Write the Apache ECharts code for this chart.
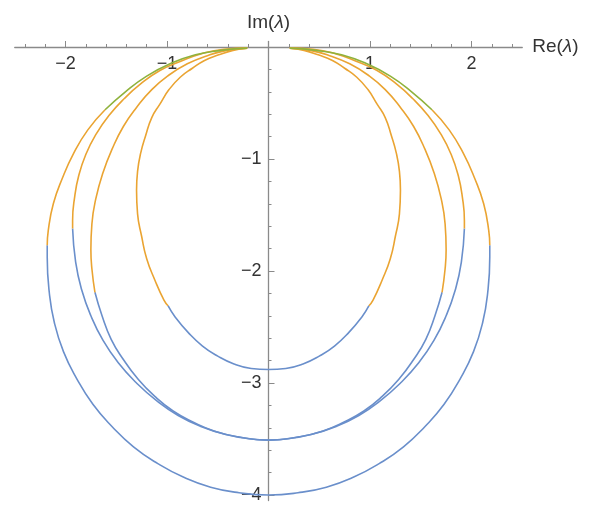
<!DOCTYPE html>
<html>
<head>
<meta charset="utf-8">
<script src="https://cdn.jsdelivr.net/npm/echarts@6/dist/echarts.min.js"></script>
<style>html,body{margin:0;padding:0;background:#fff}#c{width:596px;height:505px}</style>
</head>
<body>
<div id="c"></div>
<script>
// Tick labels
const xTickLabels = [-2, -1, 1, 2];
const yTickLabels = [-1, -2, -3, -4];

// Curve A (innermost)
const aOrangeL = [[-0.21,-0.01],[-0.35,-0.03],[-0.49,-0.07],[-0.63,-0.12],[-0.75,-0.19],[-0.87,-0.27],[-0.98,-0.38],[-1.07,-0.51],[-1.15,-0.63],[-1.21,-0.79],[-1.26,-0.95],[-1.29,-1.11],[-1.30,-1.28],[-1.29,-1.49],[-1.25,-1.69],[-1.20,-1.89],[-1.12,-2.08],[-1.03,-2.26],[-0.99,-2.31]];
const aBlue = [[-0.99,-2.31],[-0.92,-2.41],[-0.79,-2.55],[-0.65,-2.67],[-0.50,-2.76],[-0.34,-2.83],[-0.17,-2.87],[0,-2.88],[0.17,-2.87],[0.34,-2.83],[0.50,-2.76],[0.65,-2.67],[0.79,-2.55],[0.92,-2.41],[0.99,-2.31]];
const aOrangeR = [[0.21,-0.01],[0.35,-0.03],[0.49,-0.07],[0.63,-0.12],[0.75,-0.19],[0.87,-0.27],[0.98,-0.38],[1.07,-0.51],[1.15,-0.63],[1.21,-0.79],[1.26,-0.95],[1.29,-1.11],[1.30,-1.28],[1.29,-1.49],[1.25,-1.69],[1.20,-1.89],[1.12,-2.08],[1.03,-2.26],[0.99,-2.31]];

// Curve B
const bOrangeL = [[-0.21,-0.01],[-0.41,-0.03],[-0.61,-0.08],[-0.80,-0.15],[-0.98,-0.25],[-1.15,-0.38],[-1.30,-0.54],[-1.43,-0.71],[-1.54,-0.91],[-1.63,-1.12],[-1.70,-1.35],[-1.74,-1.58],[-1.75,-1.81],[-1.74,-1.98],[-1.71,-2.19]];
const bBlue = [[-1.71,-2.19],[-1.64,-2.40],[-1.55,-2.61],[-1.43,-2.79],[-1.29,-2.96],[-1.12,-3.12],[-0.94,-3.25],[-0.74,-3.35],[-0.53,-3.43],[-0.30,-3.48],[0,-3.51],[0.30,-3.48],[0.53,-3.43],[0.74,-3.35],[0.94,-3.25],[1.12,-3.12],[1.29,-2.96],[1.43,-2.79],[1.55,-2.61],[1.64,-2.40],[1.71,-2.19]];
const bOrangeR = [[0.21,-0.01],[0.41,-0.03],[0.61,-0.08],[0.80,-0.15],[0.98,-0.25],[1.15,-0.38],[1.30,-0.54],[1.43,-0.71],[1.54,-0.91],[1.63,-1.12],[1.70,-1.35],[1.74,-1.58],[1.75,-1.81],[1.74,-1.98],[1.71,-2.19]];

// Curve C
const cOrangeL = [[-0.21,-0.01],[-0.44,-0.02],[-0.66,-0.06],[-0.87,-0.13],[-1.07,-0.21],[-1.26,-0.33],[-1.42,-0.46],[-1.57,-0.61],[-1.70,-0.78],[-1.80,-0.96],[-1.87,-1.15],[-1.91,-1.34],[-1.93,-1.55],[-1.93,-1.62]];
const cBlue = [[-1.93,-1.62],[-1.90,-1.92],[-1.84,-2.17],[-1.75,-2.40],[-1.63,-2.62],[-1.48,-2.82],[-1.30,-3.00],[-1.10,-3.16],[-0.89,-3.29],[-0.66,-3.39],[-0.42,-3.46],[-0.17,-3.50],[0,-3.51],[0.17,-3.50],[0.42,-3.46],[0.66,-3.39],[0.89,-3.29],[1.10,-3.16],[1.30,-3.00],[1.48,-2.82],[1.63,-2.62],[1.75,-2.40],[1.84,-2.17],[1.90,-1.92],[1.93,-1.62]];
const cOrangeR = [[0.21,-0.01],[0.44,-0.02],[0.66,-0.06],[0.87,-0.13],[1.07,-0.21],[1.26,-0.33],[1.42,-0.46],[1.57,-0.61],[1.70,-0.78],[1.80,-0.96],[1.87,-1.15],[1.91,-1.34],[1.93,-1.55],[1.93,-1.62]];

// Curve D (outermost)
const dGreenL = [[-0.21,-0.01],[-0.47,-0.03],[-0.72,-0.07],[-0.97,-0.15],[-1.20,-0.26],[-1.41,-0.40],[-1.61,-0.56]];
const dOrangeL = [[-1.61,-0.56],[-1.78,-0.74],[-1.92,-0.95],[-2.03,-1.17],[-2.12,-1.40],[-2.17,-1.64],[-2.18,-1.77]];
const dBlue = [[-2.18,-1.77],[-2.18,-1.88],[-2.16,-2.19],[-2.11,-2.46],[-2.02,-2.72],[-1.89,-2.96],[-1.73,-3.19],[-1.54,-3.39],[-1.33,-3.57],[-1.09,-3.72],[-0.84,-3.84],[-0.57,-3.93],[-0.29,-3.98],[0,-4.00],[0.29,-3.98],[0.57,-3.93],[0.84,-3.84],[1.09,-3.72],[1.33,-3.57],[1.54,-3.39],[1.73,-3.19],[1.89,-2.96],[2.02,-2.72],[2.11,-2.46],[2.16,-2.19],[2.18,-1.88],[2.18,-1.77]];
const dOrangeR = [[1.61,-0.56],[1.78,-0.74],[1.92,-0.95],[2.03,-1.17],[2.12,-1.40],[2.17,-1.64],[2.18,-1.77]];
const dGreenR = [[0.21,-0.01],[0.47,-0.03],[0.72,-0.07],[0.97,-0.15],[1.20,-0.26],[1.41,-0.40],[1.61,-0.56]];

const BLUE = '#6A8FCB', ORANGE = '#EAA432', GREEN = '#8FB23C';
const AX = '#8a8a8a';
const FONT = 'Liberation Sans';

function fmt(v, list) {
  if (list.indexOf(v) < 0) return '';
  return v < 0 ? '\u2212' + (-v) : String(v);
}

function line(data, color, z) {
  return { type: 'line', xAxisIndex: 0, yAxisIndex: 0, data: data, showSymbol: false,
    smooth: 0.5, lineStyle: { color: color, width: 1.6 }, z: z, silent: true };
}

const series = [
  line(dBlue, BLUE, 2), line(cBlue, BLUE, 2), line(bBlue, BLUE, 2), line(aBlue, BLUE, 2),
  line(cOrangeL, ORANGE, 3), line(cOrangeR, ORANGE, 3),
  line(bOrangeL, ORANGE, 3), line(bOrangeR, ORANGE, 3),
  line(aOrangeL, ORANGE, 3), line(aOrangeR, ORANGE, 3),
  line(dOrangeL, ORANGE, 3), line(dOrangeR, ORANGE, 3),
  line(dGreenL, GREEN, 4), line(dGreenR, GREEN, 4)
];

const chart = echarts.init(document.getElementById('c'), null, { renderer: 'canvas' });
const nameStyle = { fontFamily: FONT, fontSize: 19, color: '#333',
  rich: { i: { fontFamily: FONT, fontSize: 19, fontStyle: 'italic', color: '#333' } } };
const hidden = (gi, ext) => ({ gridIndex: gi, type: 'value', min: ext[0], max: ext[1], show: false });
const g = (l, t, w, h) => ({ left: l, top: t, width: w, height: h, containLabel: false, outerBoundsMode: 'none' });

chart.setOption({
  animation: false,
  backgroundColor: '#fff',
  grid: [
    g(14.75, 41.4, 507.5, 459.2),   // 0 data
    g(24.9, 0, 487.2, 47),          // 1 x minor ticks (bottom edge on y=0)
    g(65.5, 0, 406, 47),            // 2 x major ticks + labels
    g(268.5, 47, 20, 448),          // 3 y minor ticks (left edge on x=0)
    g(268.5, 47, 20, 448)           // 4 y major ticks + labels
  ],
  xAxis: [
    { gridIndex: 0, type: 'value', min: -2.5, max: 2.5,
      axisLine: { show: true, onZero: true, lineStyle: { color: AX, width: 1.3 } },
      axisTick: { show: false }, axisLabel: { show: false }, splitLine: { show: false },
      name: 'Re({i|λ})', nameLocation: 'end', nameGap: 10, nameTextStyle: nameStyle },
    { gridIndex: 1, type: 'value', min: -2.4, max: 2.4, interval: 0.2, position: 'bottom',
      axisLine: { show: false, onZero: false },
      axisTick: { show: true, inside: true, length: 3, lineStyle: { color: AX, width: 1 } },
      axisLabel: { show: false }, splitLine: { show: false } },
    { gridIndex: 2, type: 'value', min: -2, max: 2, interval: 1, position: 'bottom',
      axisLine: { show: false, onZero: false },
      axisTick: { show: true, inside: true, length: 6, lineStyle: { color: AX, width: 1 } },
      axisLabel: { show: true, margin: 8, fontFamily: FONT, fontSize: 18, color: '#333',
        formatter: v => fmt(v, xTickLabels) },
      splitLine: { show: false } },
    hidden(3, [0, 1]),
    hidden(4, [0, 1])
  ],
  yAxis: [
    { gridIndex: 0, type: 'value', min: -4.05, max: 0.05,
      axisLine: { show: true, onZero: true, lineStyle: { color: AX, width: 1.3 } },
      axisTick: { show: false }, axisLabel: { show: false }, splitLine: { show: false },
      name: 'Im({i|λ})', nameLocation: 'end', nameGap: 9, nameTextStyle: nameStyle },
    hidden(1, [0, 1]),
    hidden(2, [0, 1]),
    { gridIndex: 3, type: 'value', min: -4, max: 0, interval: 0.2, position: 'left',
      axisLine: { show: false, onZero: false },
      axisTick: { show: true, inside: true, length: 3, lineStyle: { color: AX, width: 1 } },
      axisLabel: { show: false }, splitLine: { show: false } },
    { gridIndex: 4, type: 'value', min: -4, max: 0, interval: 1, position: 'left',
      axisLine: { show: false, onZero: false },
      axisTick: { show: true, inside: true, length: 6, lineStyle: { color: AX, width: 1 } },
      axisLabel: { show: true, margin: 7, fontFamily: FONT, fontSize: 18, color: '#333',
        formatter: v => fmt(v, yTickLabels) },
      splitLine: { show: false } }
  ],
  series: series
});
</script>
</body>
</html>
